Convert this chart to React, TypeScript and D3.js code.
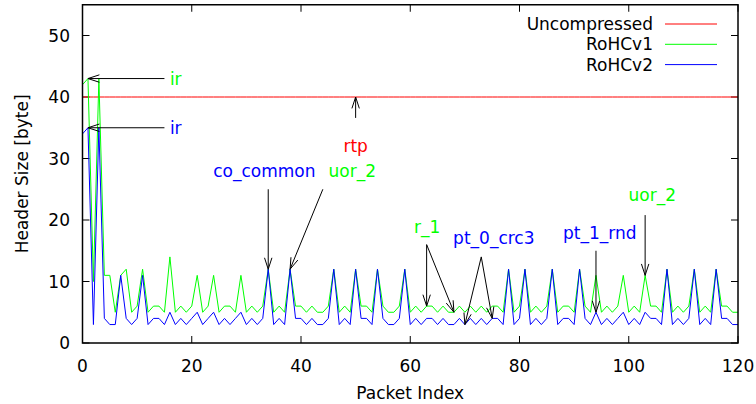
import React from "react";
import * as d3 from "d3";

// Header size per packet (bytes) for each compression profile
const packetIndex: number[] = d3.range(0, 121);

const rohcv1: number[] = [
  42, 43, 10, 43, 11, 11, 5, 11, 12, 5,
  6, 12, 5, 6, 6, 5, 14, 5, 6, 5,
  6, 11, 5, 6, 11, 5, 6, 6, 5, 11,
  5, 6, 5, 6, 12, 5, 6, 5, 12, 6,
  6, 5, 6, 5, 5, 6, 12, 5, 6, 5,
  12, 6, 6, 5, 12, 6, 5, 5, 6, 12,
  5, 6, 5, 6, 6, 5, 6, 5, 5, 6,
  5, 6, 5, 6, 5, 6, 6, 5, 12, 5,
  6, 12, 5, 6, 5, 6, 12, 5, 6, 6,
  5, 12, 6, 5, 11, 5, 6, 5, 6, 11,
  5, 6, 5, 11, 6, 6, 5, 12, 5, 6,
  5, 6, 12, 5, 6, 5, 12, 6, 6, 5,
  5,
];

const rohcv2: number[] = [
  34, 35, 3, 35, 4, 3, 3, 11, 4, 3,
  4, 11, 3, 4, 4, 3, 5, 3, 4, 3,
  4, 5, 3, 4, 5, 3, 4, 3, 4, 5,
  3, 4, 3, 4, 12, 3, 4, 3, 12, 4,
  4, 3, 4, 3, 3, 4, 12, 3, 4, 3,
  12, 4, 4, 3, 12, 4, 3, 3, 4, 12,
  3, 4, 3, 4, 4, 3, 4, 3, 3, 4,
  3, 4, 3, 4, 3, 4, 4, 3, 12, 3,
  4, 12, 3, 4, 3, 4, 12, 3, 4, 4,
  3, 12, 4, 3, 5, 3, 4, 3, 4, 5,
  3, 4, 3, 5, 4, 4, 3, 12, 3, 4,
  3, 4, 12, 3, 4, 3, 12, 4, 4, 3,
  3,
];

const uncompressed: number[] = packetIndex.map(() => 40);

const xTicks: number[] = [0, 20, 40, 60, 80, 100, 120];
const yTicks: number[] = [0, 10, 20, 30, 40, 50];

const seriesNames: string[] = ["Uncompressed", "RoHCv1", "RoHCv2"];
const seriesColors: string[] = ["#ff0000", "#00ff00", "#0000ff"];

// Annotations: text with its anchor point (data coords)
const labelTexts: string[] = ["ir", "ir", "rtp", "co_common", "uor_2", "r_1", "pt_0_crc3", "pt_1_rnd", "uor_2"];
const labelX: number[] = [16, 16, 50, 33.3, 49.4, 63.1, 75.3, 94.7, 104.3];
const labelY: number[] = [43, 35, 32, 28, 28, 18.9, 17.1, 17.9, 24];
const labelAnchor: string[] = ["start", "start", "middle", "middle", "middle", "middle", "middle", "middle", "middle"];
const labelColor: string[] = ["#00ff00", "#0000ff", "#ff0000", "#0000ff", "#00ff00", "#00ff00", "#0000ff", "#0000ff", "#00ff00"];

// Arrows: from (x0,y0) to (x1,y1) in data coords
const arrowX0: number[] = [15, 15, 50, 34, 44, 63, 63, 73, 73, 94, 103];
const arrowY0: number[] = [43, 35, 36.6, 25, 25, 16, 16, 14, 14, 15, 20.8];
const arrowX1: number[] = [1, 1, 50, 34, 38, 63, 68, 70, 75, 94, 103];
const arrowY1: number[] = [43, 35, 40, 12, 12, 6, 5, 3, 4, 5, 11];

const W = 756;
const H = 404;
const FONT = "'DejaVu Sans', sans-serif";

export default function App() {
  const x = d3.scaleLinear().domain([0, 120]).range([82.5, 738]);
  const y = d3.scaleLinear().domain([0, 55]).range([343, 4.75]);

  const line = d3
    .line<number>()
    .x((_, i) => x(packetIndex[i]))
    .y((d) => y(d));

  const series = [uncompressed, rohcv1, rohcv2];
  const tickLen = 7;
  const [x0, x1] = x.range();
  const [yb, yt] = y.range();

  const headLen = 12;
  const headAng = (18 * Math.PI) / 180;

  return (
    <svg
      width={W}
      height={H}
      style={{ position: "absolute", left: 0, top: 0, background: "#fff" }}
      fontFamily={FONT}
      fontSize={17}
    >
      <rect x={0} y={0} width={W} height={H} fill="#fff" />

      {/* ticks on all four sides, pointing inward */}
      {xTicks.map((t) => (
        <g key={"xt" + t}>
          <line x1={x(t)} x2={x(t)} y1={yb} y2={yb - tickLen} stroke="#000" strokeWidth={1} />
          <line x1={x(t)} x2={x(t)} y1={yt} y2={yt + tickLen} stroke="#000" strokeWidth={1} />
          <text x={x(t)} y={366} textAnchor="middle" dominantBaseline="central">
            {t}
          </text>
        </g>
      ))}
      {yTicks.map((t) => (
        <g key={"yt" + t}>
          <line x1={x0} x2={x0 + tickLen} y1={y(t)} y2={y(t)} stroke="#000" strokeWidth={1} />
          <line x1={x1} x2={x1 - tickLen} y1={y(t)} y2={y(t)} stroke="#000" strokeWidth={1} />
          <text x={70} y={y(t)} textAnchor="end" dominantBaseline="central">
            {t}
          </text>
        </g>
      ))}

      {/* data lines */}
      {series.map((s, i) => (
        <path key={"s" + i} d={line(s) || ""} fill="none" stroke={seriesColors[i]} strokeWidth={1} />
      ))}

      {/* annotation arrows */}
      {arrowX0.map((_, i) => {
        const ax = x(arrowX0[i]);
        const ay = y(arrowY0[i]);
        const bx = x(arrowX1[i]);
        const by = y(arrowY1[i]);
        const ang = Math.atan2(by - ay, bx - ax);
        const h1x = bx - headLen * Math.cos(ang - headAng);
        const h1y = by - headLen * Math.sin(ang - headAng);
        const h2x = bx - headLen * Math.cos(ang + headAng);
        const h2y = by - headLen * Math.sin(ang + headAng);
        return (
          <g key={"a" + i} stroke="#000" strokeWidth={1} fill="none">
            <line x1={ax} y1={ay} x2={bx} y2={by} />
            <polyline points={`${h1x},${h1y} ${bx},${by} ${h2x},${h2y}`} />
          </g>
        );
      })}

      {/* annotation labels */}
      {labelTexts.map((t, i) => (
        <text
          key={"l" + i}
          x={x(labelX[i])}
          y={y(labelY[i])}
          textAnchor={labelAnchor[i]}
          dominantBaseline="central"
          fill={labelColor[i]}
        >
          {t}
        </text>
      ))}

      {/* frame */}
      <rect x={x0} y={yt} width={x1 - x0} height={yb - yt} fill="none" stroke="#000" strokeWidth={1.5} />

      {/* legend */}
      {seriesNames.map((n, i) => {
        const ly = 24 + i * 20.3;
        return (
          <g key={"lg" + i}>
            <text x={653} y={ly} textAnchor="end" dominantBaseline="central">
              {n}
            </text>
            <line x1={665} x2={717} y1={ly} y2={ly} stroke={seriesColors[i]} strokeWidth={1} />
          </g>
        );
      })}

      {/* axis titles */}
      <text x={(x0 + x1) / 2} y={393} textAnchor="middle" dominantBaseline="central">
        Packet Index
      </text>
      <text
        transform={`translate(22,${(yb + yt) / 2}) rotate(-90)`}
        textAnchor="middle"
        dominantBaseline="central"
      >
        Header Size [byte]
      </text>
    </svg>
  );
}
